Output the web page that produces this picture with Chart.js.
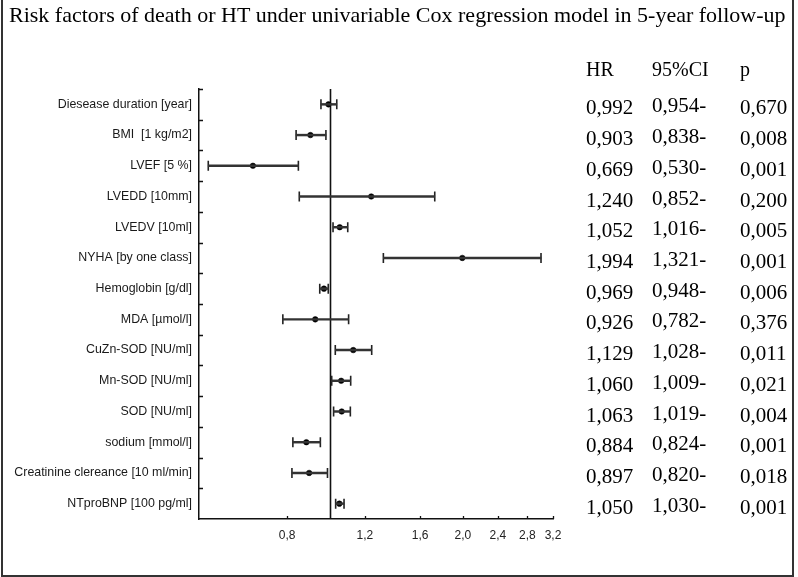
<!DOCTYPE html>
<html>
<head>
<meta charset="utf-8">
<script src="https://cdn.jsdelivr.net/npm/chart.js@4/dist/chart.umd.min.js"></script>
<style>
html,body{margin:0;padding:0;background:#fff;}
canvas{display:block;}
</style>
</head>
<body>
<canvas id="c" width="798" height="577"></canvas>
<script>
const titleText = 'Risk factors of death or HT under univariable Cox regression model in 5-year follow-up';
const columnHeaders = ['HR', '95%CI', 'p'];
const categories = ['Diesease duration [year]', 'BMI  [1 kg/m2]', 'LVEF [5 %]', 'LVEDD [10mm]', 'LVEDV [10ml]', 'NYHA [by one class]', 'Hemoglobin [g/dl]', 'MDA [\u00b5mol/l]', 'CuZn-SOD [NU/ml]', 'Mn-SOD [NU/ml]', 'SOD [NU/ml]', 'sodium [mmol/l]', 'Creatinine clereance [10 ml/min]', 'NTproBNP [100 pg/ml]'];
const hr     = [0.992, 0.903, 0.669, 1.240, 1.052, 1.994, 0.969, 0.926, 1.129, 1.060, 1.063, 0.884, 0.897, 1.050];
const ciLow  = [0.954, 0.838, 0.530, 0.852, 1.016, 1.321, 0.948, 0.782, 1.028, 1.009, 1.019, 0.824, 0.820, 1.030];
const ciHigh = [1.036, 0.979, 0.848, 1.727, 1.097, 3.006, 0.991, 1.102, 1.243, 1.114, 1.112, 0.951, 0.987, 1.076];
const hrText = ['0,992', '0,903', '0,669', '1,240', '1,052', '1,994', '0,969', '0,926', '1,129', '1,060', '1,063', '0,884', '0,897', '1,050'];
const ciText = ['0,954-', '0,838-', '0,530-', '0,852-', '1,016-', '1,321-', '0,948-', '0,782-', '1,028-', '1,009-', '1,019-', '0,824-', '0,820-', '1,030-'];
const pText  = ['0,670', '0,008', '0,001', '0,200', '0,005', '0,001', '0,006', '0,376', '0,011', '0,021', '0,004', '0,001', '0,018', '0,001'];
const xTicks = [0.8, 1.2, 1.6, 2.0, 2.4, 2.8, 3.2];
const referenceHR = 1;

const decorPlugin = {
  id: 'decor',
  beforeDatasetsDraw(chart) {
    const {ctx, chartArea: a, scales: {x}} = chart;
    const px = Math.round(x.getPixelForValue(referenceHR)) + 0.5;
    ctx.save();
    ctx.strokeStyle = '#111';
    ctx.lineWidth = 1.6;
    ctx.beginPath();
    ctx.moveTo(px, a.top);
    ctx.lineTo(px, a.bottom);
    ctx.stroke();
    ctx.restore();
  },
  afterDraw(chart) {
    const {ctx, chartArea: a, scales: {x, y}} = chart;
    ctx.save();
    ctx.strokeStyle = '#111';
    ctx.lineWidth = 1.3;
    const step = y.getPixelForValue(1) - y.getPixelForValue(0);
    ctx.beginPath();
    for (let i = 0; i < categories.length; i++) {
      const yy = Math.round(y.getPixelForValue(i) - step / 2) + 0.5;
      ctx.moveTo(a.left, yy);
      ctx.lineTo(a.left + 4, yy);
    }
    x.ticks.forEach(t => {
      const px = Math.round(x.getPixelForValue(t.value)) + 0.5;
      ctx.moveTo(px, a.bottom);
      ctx.lineTo(px, a.bottom - 3);
    });
    ctx.stroke();

    ctx.strokeStyle = '#333';
    ctx.lineWidth = 2;
    ctx.beginPath();
    ctx.moveTo(2, 0);
    ctx.lineTo(2, 576);
    ctx.lineTo(793, 576);
    ctx.lineTo(793, 0);
    ctx.stroke();

    ctx.fillStyle = '#000';
    ctx.textBaseline = 'alphabetic';
    ctx.textAlign = 'left';
    ctx.font = '22px "Liberation Serif"';
    ctx.fillText(titleText, 9, 22);
    const colX = [586, 652, 740];
    ctx.font = '20px "Liberation Serif"';
    columnHeaders.forEach((h, i) => ctx.fillText(h, colX[i], 76));
    ctx.font = '21px "Liberation Serif"';
    for (let i = 0; i < categories.length; i++) {
      const yy = y.getPixelForValue(i);
      ctx.fillText(hrText[i], colX[0], yy + 10);
      ctx.fillText(ciText[i], colX[1], yy + 8);
      ctx.fillText(pText[i], colX[2], yy + 10);
    }
    ctx.restore();
  }
};

new Chart(document.getElementById('c'), {
  type: 'bar',
  data: {
    labels: categories,
    datasets: [
      {
        type: 'bar',
        indexAxis: 'y',
        data: ciLow.map((l, i) => [l, ciHigh[i]]),
        backgroundColor: '#333',
        borderWidth: 0,
        barThickness: 1.8,
        xAxisID: 'x',
        yAxisID: 'y'
      },
      {
        type: 'scatter',
        data: categories.flatMap((c, i) => [{x: ciLow[i], y: c}, {x: ciHigh[i], y: c}]),
        pointStyle: 'line',
        rotation: 90,
        radius: 5,
        borderWidth: 1.6,
        borderColor: '#222',
        xAxisID: 'x',
        yAxisID: 'y'
      },
      {
        type: 'scatter',
        data: categories.map((c, i) => ({x: hr[i], y: c})),
        pointStyle: 'circle',
        radius: 2.8,
        backgroundColor: '#000',
        borderColor: '#000',
        borderWidth: 0.5,
        xAxisID: 'x',
        yAxisID: 'y'
      }
    ]
  },
  options: {
    responsive: false,
    animation: false,
    devicePixelRatio: 1,
    layout: {padding: {left: 0, right: 245, top: 89, bottom: 0}},
    plugins: {legend: {display: false}, tooltip: {enabled: false}, title: {display: false}},
    scales: {
      x: {
        type: 'logarithmic',
        position: 'bottom',
        min: 0.505,
        max: 3.2,
        afterBuildTicks: s => { s.ticks = xTicks.map(v => ({value: v})); },
        afterFit: s => { s.height = 58; },
        ticks: {
          callback: v => Number(v).toFixed(1).replace('.', ','),
          font: {family: 'Liberation Sans', size: 12},
          color: '#222',
          padding: 9,
          autoSkip: false,
          maxRotation: 0
        },
        grid: {display: false, drawTicks: false},
        border: {display: true, color: '#111', width: 1.5}
      },
      y: {
        type: 'category',
        labels: categories,
        offset: true,
        afterFit: s => { s.width = 199; },
        ticks: {
          font: {family: 'Liberation Sans', size: 12.4},
          color: '#1a1a1a',
          padding: 7,
          autoSkip: false
        },
        grid: {display: false, drawTicks: false},
        border: {display: true, color: '#111', width: 1.5}
      }
    }
  },
  plugins: [decorPlugin]
});
</script>
</body>
</html>
